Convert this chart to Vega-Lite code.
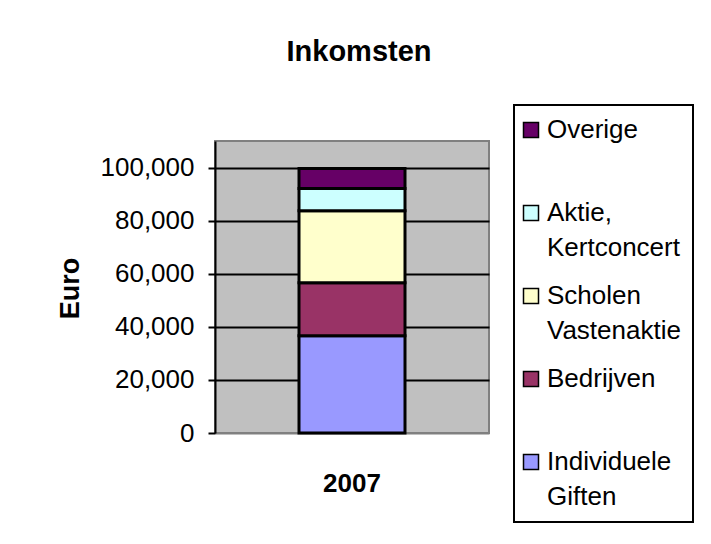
{
  "$schema": "https://vega.github.io/schema/vega-lite/v6.json",
  "autosize": "none",
  "width": 274,
  "height": 292,
  "padding": {"left": 215, "top": 141, "right": 222, "bottom": 111},
  "background": "white",
  "title": {
    "text": "Inkomsten",
    "font": "Liberation Sans",
    "fontSize": 29,
    "fontWeight": "bold",
    "color": "black",
    "anchor": "middle",
    "frame": "group",
    "dx": 7,
    "offset": 14,
    "baseline": "alphabetic"
  },
  "data": {
    "values": [
      {"jaar": "2007", "bron": "Individuele Giften", "bedrag": 36600, "volgorde": 1},
      {"jaar": "2007", "bron": "Bedrijven", "bedrag": 20000, "volgorde": 2},
      {"jaar": "2007", "bron": "Scholen Vastenaktie", "bedrag": 27100, "volgorde": 3},
      {"jaar": "2007", "bron": "Aktie, Kertconcert", "bedrag": 8400, "volgorde": 4},
      {"jaar": "2007", "bron": "Overige", "bedrag": 7500, "volgorde": 5}
    ]
  },
  "mark": {"type": "bar", "size": 106, "stroke": "black", "strokeWidth": 3},
  "encoding": {
    "x": {
      "field": "jaar",
      "type": "nominal",
      "axis": {
        "title": null,
        "labelAngle": 0,
        "labelFont": "Liberation Sans",
        "labelFontSize": 26,
        "labelFontWeight": "bold",
        "labelColor": "black",
        "ticks": false,
        "tickSize": 0,
        "domain": false,
        "grid": false,
        "labelPadding": 37
      }
    },
    "y": {
      "field": "bedrag",
      "type": "quantitative",
      "stack": "zero",
      "scale": {"domain": [0, 110000], "nice": false},
      "axis": {
        "values": [0, 20000, 40000, 60000, 80000, 100000],
        "format": ",d",
        "labelFont": "Liberation Sans",
        "labelFontSize": 26,
        "labelColor": "black",
        "labelPadding": 14,
        "tickSize": 7,
        "tickColor": "black",
        "tickWidth": 2,
        "domainColor": "black",
        "domainWidth": 2,
        "grid": true,
        "gridColor": {"condition": {"test": "datum.value === 0", "value": "#808080"}, "value": "black"},
        "gridWidth": 2,
        "title": "Euro",
        "titleFont": "Liberation Sans",
        "titleFontSize": 27,
        "titleFontWeight": "bold",
        "titleColor": "black",
        "titleAngle": -90,
        "titleAlign": "center",
        "titleBaseline": "middle",
        "titleX": -145,
        "titleY": 147
      }
    },
    "color": {
      "field": "bron",
      "type": "nominal",
      "scale": {
        "domain": ["Overige", "Aktie, Kertconcert", "Scholen Vastenaktie", "Bedrijven", "Individuele Giften"],
        "range": ["#660066", "#CCFFFF", "#FFFFCC", "#993366", "#9999FF"]
      },
      "legend": {
        "title": null,
        "orient": "none",
        "legendX": 299,
        "legendY": -36,
        "fillColor": "white",
        "strokeColor": "black",
        "padding": 12,
        "symbolType": "square",
        "symbolSize": 225,
        "symbolStrokeColor": "black",
        "symbolStrokeWidth": 1.5,
        "symbolOpacity": 1,
        "symbolOffset": -8,
        "labelFont": "Liberation Sans",
        "labelFontSize": 26,
        "labelColor": "black",
        "labelOffset": 3,
        "labelLimit": 0,
        "rowPadding": 22,
        "labelExpr": "datum.value == 'Aktie, Kertconcert' ? ['Aktie,', 'Kertconcert'] : datum.value == 'Scholen Vastenaktie' ? ['Scholen', 'Vastenaktie'] : datum.value == 'Individuele Giften' ? ['Individuele', 'Giften'] : [datum.value, ' ']"
      }
    },
    "order": {"field": "volgorde", "type": "quantitative", "sort": "ascending"}
  },
  "config": {
    "view": {"fill": "#C0C0C0", "stroke": "#808080", "strokeWidth": 2},
    "legend": {"strokeWidth": 2},
    "style": {"guide-label": {"lineHeight": 35}}
  }
}
